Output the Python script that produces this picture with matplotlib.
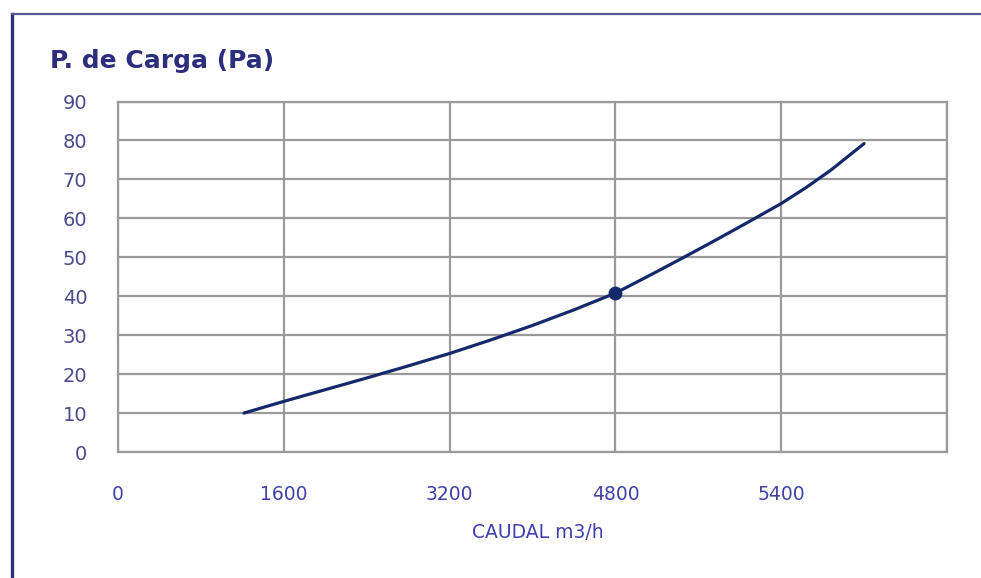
import matplotlib.pyplot as plt
from matplotlib.lines import Line2D

# x axis is drawn on evenly spaced positions with these labels
tick_labels = ["0", "1600", "3200", "4800", "5400", ""]
y_ticks = [0, 10, 20, 30, 40, 50, 60, 70, 80, 90]

# curve (x in tick-position units)
curve_x = [0.76, 1.0, 1.25, 1.5, 1.75, 2.0, 2.25, 2.5, 2.75, 3.0, 3.2, 3.4, 3.6, 3.8, 4.0, 4.15, 4.3, 4.5]
curve_y = [10.0, 13.0, 16.0, 19.0, 22.1, 25.3, 28.8, 32.5, 36.5, 40.8, 45.2, 49.7, 54.3, 59.0, 63.8, 67.9, 72.4, 79.2]

point_x = [3.0]
point_y = [40.8]

navy = "#14296b"
grid_c = "#9a9a9a"

fig = plt.figure(figsize=(9.81, 5.78), dpi=100)
ax = fig.add_axes([118 / 981, 1 - 452 / 578, (947 - 118) / 981, (452 - 101.5) / 578])

ax.plot(curve_x, curve_y, color=navy, lw=2.3, solid_capstyle="round", solid_joinstyle="round", zorder=3)
ax.plot(point_x, point_y, "o", color=navy, ms=9, zorder=4)

ax.set_xlim(0, 5)
ax.set_ylim(0, 90)
ax.set_xticks(range(len(tick_labels)))
ax.set_xticklabels(tick_labels)
ax.set_yticks(y_ticks)
ax.grid(True, color=grid_c, lw=1.6)
ax.set_axisbelow(True)
for s in ax.spines.values():
    s.set_color(grid_c)
    s.set_linewidth(1.6)
ax.tick_params(length=0)
ax.tick_params(axis="x", pad=24, labelsize=13.5, labelcolor="#4141a6")
ax.tick_params(axis="y", pad=22, labelsize=14, labelcolor="#4a4a8c")

fig.text(50 / 981, 1 - 68 / 578, "P. de Carga (Pa)", fontsize=18, fontweight="bold",
         color="#2d2d7d", ha="left", va="baseline")
fig.text(538 / 981, 1 - 532 / 578, "CAUDAL m3/h", fontsize=13.5, color="#3f3fb0",
         ha="center", va="center")

# frame lines of the cropped picture
fig.add_artist(Line2D([12 / 981, 12 / 981], [0, 1 - 14 / 578], color="#2d2d80", lw=2.4))
fig.add_artist(Line2D([12 / 981, 1], [1 - 14 / 578, 1 - 14 / 578], color="#5a5a98", lw=1.6))

fig.savefig("out.png", dpi=100)
